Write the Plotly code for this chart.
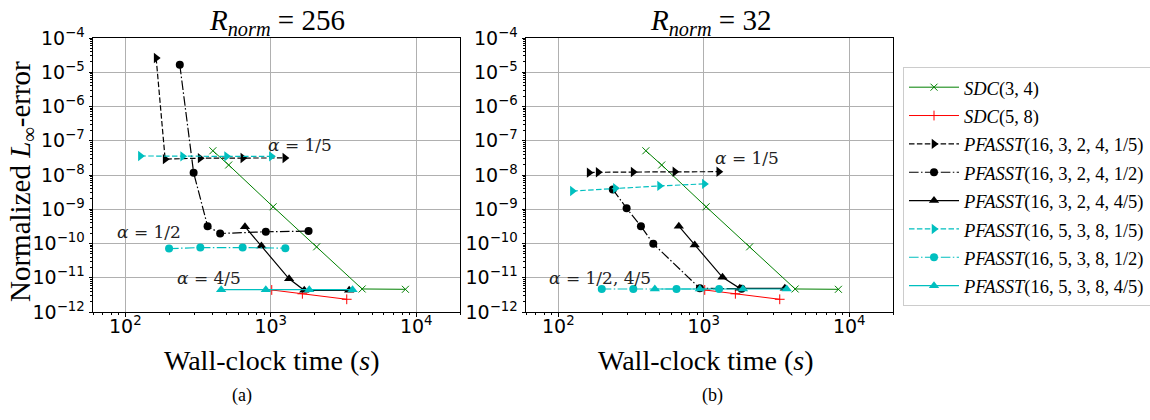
import numpy as np
import plotly.graph_objects as go

# ---------------- data ----------------
sdc34_t = [400, 514, 1038, 2070, 4250, 8430]
sdc34_err = [5.1e-8, 1.96e-8, 1.18e-9, 8.0e-11, 4.7e-12, 4.6e-12]
sdc58_t = [1016, 1650, 3330]
sdc58_err = [4.4e-12, 3.4e-12, 2.35e-12]

# panel (a): R_norm = 256
a_p3_15_t = [163, 188, 327, 643, 1250]
a_p3_15_err = [2.6e-5, 2.9e-8, 3.1e-8, 3.15e-8, 3.15e-8]
a_p3_12_t = [237, 295, 368, 449, 925, 1820]
a_p3_12_err = [1.66e-5, 1.17e-8, 3.2e-10, 1.96e-10, 2.2e-10, 2.3e-10]
a_p3_45_t = [665, 863, 1337, 1700, 3460]
a_p3_45_err = [3.1e-10, 8.5e-11, 9.3e-12, 4.3e-12, 4.3e-12]
a_p5_15_t = [127, 248, 497, 1010]
a_p5_15_err = [3.6e-8, 3.5e-8, 3.5e-8, 3.5e-8]
a_p5_12_t = [200, 328, 641, 1260]
a_p5_12_err = [7.1e-11, 7.6e-11, 7.6e-11, 7.3e-11]
a_p5_45_t = [456, 925, 1840, 3650]
a_p5_45_err = [4.5e-12, 4.5e-12, 4.5e-12, 4.5e-12]

# panel (b): R_norm = 32
b_p3_15_t = [163, 188, 327, 633, 1268]
b_p3_15_err = [1.17e-8, 1.2e-8, 1.22e-8, 1.25e-8, 1.25e-8]
b_p3_12_t = [237, 295, 370, 450, 940, 1820]
b_p3_12_err = [3.8e-9, 1.07e-9, 3.2e-10, 9.8e-11, 4.9e-12, 4.8e-12]
b_p3_45_t = [674, 867, 1346, 1770, 3610]
b_p3_45_err = [3.2e-10, 9.1e-11, 1.03e-11, 4.9e-12, 4.9e-12]
b_p5_15_t = [125, 247, 497, 1010]
b_p5_15_err = [3.4e-9, 4.1e-9, 4.8e-9, 5.5e-9]
b_p5_12_t = [199, 328, 650, 1275]
b_p5_12_err = [4.7e-12, 4.7e-12, 4.7e-12, 4.7e-12]
b_p5_45_t = [461, 940, 1860, 3720]
b_p5_45_err = [4.7e-12, 4.7e-12, 4.7e-12, 4.7e-12]

labels = ["<i>SDC</i>(3, 4)", "<i>SDC</i>(5, 8)",
          "<i>PFASST</i>(16, 3, 2, 4, 1/5)", "<i>PFASST</i>(16, 3, 2, 4, 1/2)",
          "<i>PFASST</i>(16, 3, 2, 4, 4/5)", "<i>PFASST</i>(16, 5, 3, 8, 1/5)",
          "<i>PFASST</i>(16, 5, 3, 8, 1/2)", "<i>PFASST</i>(16, 5, 3, 8, 4/5)"]

panel_titles = ["<i>R</i><sub><i>norm</i></sub> = 256", "<i>R</i><sub><i>norm</i></sub> = 32"]
x_tick_vals = [1e2, 1e3, 1e4]
x_tick_text = ["10<sup>2</sup>", "10<sup>3</sup>", "10<sup>4</sup>"]
y_tick_vals = [10.0 ** e for e in range(-12, -3)]
y_tick_text = ["10<sup>\u2212%d</sup>" % (-e) for e in range(-12, -3)]

# annotations (x, y in data units)
a_notes = [("<i>α</i> = 1/5", 930, 7.5e-8), ("<i>α</i> = 1/2", 85, 2.15e-10),
           ("<i>α</i> = 4/5", 220, 9.6e-12)]
b_notes = [("<i>α</i> = 1/5", 1150, 3.2e-8), ("<i>α</i> = 1/2, 4/5", 84, 1.0e-11)]

# ---------------- styles ----------------
GREEN, RED, BLACK, CYAN = "#008000", "#ff0000", "#000000", "#00bfbf"
DASH = "5.5px,2.4px"
DASHDOT = "9.6px,2.4px,1.5px,2.4px"
SERIF = "Liberation Serif"
SANS = "DejaVu Sans"

styles = [
    dict(color=GREEN, dash="solid", symbol="x-thin", size=7, width=1.0),
    dict(color=RED, dash="solid", symbol="cross-thin", size=7, width=1.0),
    dict(color=BLACK, dash=DASH, symbol="triangle-right", size=9, width=1.2),
    dict(color=BLACK, dash=DASHDOT, symbol="circle", size=8, width=1.2),
    dict(color=BLACK, dash="solid", symbol="triangle-up", size=9, width=1.2),
    dict(color=CYAN, dash=DASH, symbol="triangle-right", size=9, width=1.2),
    dict(color=CYAN, dash=DASHDOT, symbol="circle", size=8, width=1.2),
    dict(color=CYAN, dash="solid", symbol="triangle-up", size=9, width=1.2),
]

panels = [
    [(sdc34_t, sdc34_err), (sdc58_t, sdc58_err), (a_p3_15_t, a_p3_15_err),
     (a_p3_12_t, a_p3_12_err), (a_p3_45_t, a_p3_45_err), (a_p5_15_t, a_p5_15_err),
     (a_p5_12_t, a_p5_12_err), (a_p5_45_t, a_p5_45_err)],
    [(sdc34_t, sdc34_err), (sdc58_t, sdc58_err), (b_p3_15_t, b_p3_15_err),
     (b_p3_12_t, b_p3_12_err), (b_p3_45_t, b_p3_45_err), (b_p5_15_t, b_p5_15_err),
     (b_p5_12_t, b_p5_12_err), (b_p5_45_t, b_p5_45_err)],
]

W, H = 1150, 420
x_domains = [[93 / W, 460 / W], [526 / W, 893 / W]]
y_domain = [1 - 312 / H, 1 - 38 / H]

fig = go.Figure()
for p, series in enumerate(panels):
    xa = "x" if p == 0 else "x2"
    ya = "y" if p == 0 else "y2"
    for i, (t, e) in enumerate(series):
        s = styles[i]
        thin = s["symbol"].endswith("thin")
        fig.add_trace(go.Scatter(
            x=t, y=e, xaxis=xa, yaxis=ya, mode="lines+markers",
            name='<span style="font-size:18.5px">%s</span>' % labels[i],
            showlegend=(p == 0),
            line=dict(color=s["color"], dash=s["dash"], width=s["width"]),
            marker=dict(symbol=s["symbol"], size=s["size"], color=s["color"],
                        line=dict(color=s["color"], width=1.0 if thin else 0)),
        ))

x_minor = [k * 10.0 ** ex for ex in range(1, 5) for k in range(2, 10)]
y_minor = [k * 10.0 ** ex for ex in range(-12, -4) for k in range(2, 10)]

TICKFONT = dict(family=SANS, size=19, color="black")

def xaxis_cfg(dom, anchor):
    return dict(type="log", domain=dom, anchor=anchor, range=[np.log10(60), np.log10(2e4)],
                tickvals=x_tick_vals, ticktext=x_tick_text, ticks="outside", ticklen=3.5,
                tickwidth=0.8, tickcolor="black", showline=True, linecolor="black",
                linewidth=1, mirror=True, showgrid=True, gridcolor="#b0b0b0", gridwidth=0.8,
                zeroline=False, tickfont=TICKFONT, ticklabelstandoff=-6,
                minor=dict(tickvals=x_minor, ticks="outside", ticklen=2, tickwidth=0.6,
                           tickcolor="black", showgrid=False))

def yaxis_cfg(anchor):
    return dict(type="log", domain=y_domain, anchor=anchor, range=[-12, -4],
                tickvals=y_tick_vals, ticktext=y_tick_text, ticks="outside", ticklen=3.5,
                tickwidth=0.8, tickcolor="black", showline=True, linecolor="black",
                linewidth=1, mirror=True, showgrid=True, gridcolor="#b0b0b0", gridwidth=0.8,
                zeroline=False, tickfont=TICKFONT,
                minor=dict(tickvals=y_minor, ticks="outside", ticklen=2, tickwidth=0.6,
                           tickcolor="black", showgrid=False))

annotations = []
title_cx = [277, 710]
xtitle_cx = [271, 705]
for p in range(2):
    annotations.append(dict(text=panel_titles[p], x=title_cx[p] / W, y=1 - 22 / H,
                            xref="paper", yref="paper",
                            showarrow=False, xanchor="center", yanchor="middle",
                            font=dict(family=SERIF, size=29, color="black")))
    annotations.append(dict(text="Wall-clock time (<i>s</i>)", x=xtitle_cx[p] / W, y=1 - 360 / H,
                            xref="paper", yref="paper", showarrow=False,
                            xanchor="center", yanchor="middle",
                            font=dict(family=SERIF, size=28, color="black")))
annotations.append(dict(text="(a)", x=230 / W, y=1 - 408 / H, xref="paper", yref="paper",
                        showarrow=False, font=dict(family=SERIF, size=18, color="black")))
annotations.append(dict(text="(b)", x=712 / W, y=1 - 408 / H, xref="paper", yref="paper",
                        showarrow=False, font=dict(family=SERIF, size=18, color="black")))
annotations.append(dict(text="Normalized <i>L</i><sub>∞</sub>-error", x=22 / W, y=1 - 182 / H,
                        xref="paper", yref="paper", showarrow=False, textangle=-90,
                        xanchor="center", yanchor="middle",
                        font=dict(family=SERIF, size=29, color="black")))
for p, notes in enumerate([a_notes, b_notes]):
    xr = "x" if p == 0 else "x2"
    yr = "y" if p == 0 else "y2"
    for txt, xv, yv in notes:
        annotations.append(dict(text=txt, x=np.log10(xv), y=np.log10(yv), xref=xr, yref=yr,
                                showarrow=False, xanchor="left", yanchor="middle",
                                font=dict(family="DejaVu Serif", size=17, color="#222222")))

fig.update_layout(
    width=W, height=H,
    margin=dict(l=0, r=0, t=0, b=0, autoexpand=False),
    paper_bgcolor="white", plot_bgcolor="white",
    xaxis=xaxis_cfg(x_domains[0], "y"),
    yaxis=yaxis_cfg("x"),
    xaxis2=xaxis_cfg(x_domains[1], "y2"),
    yaxis2=yaxis_cfg("x2"),
    annotations=annotations,
    legend=dict(x=903 / W, y=1 - 67 / H, xanchor="left", yanchor="top",
                bordercolor="#cccccc", borderwidth=1, bgcolor="rgba(255,255,255,0.8)",
                font=dict(family=SERIF, size=19.5, color="black"),
                tracegroupgap=0, itemwidth=50),
    showlegend=True,
)

fig.write_html("out.html", config={"displayModeBar": False},
               post_script="document.body.style.margin='0px';")
